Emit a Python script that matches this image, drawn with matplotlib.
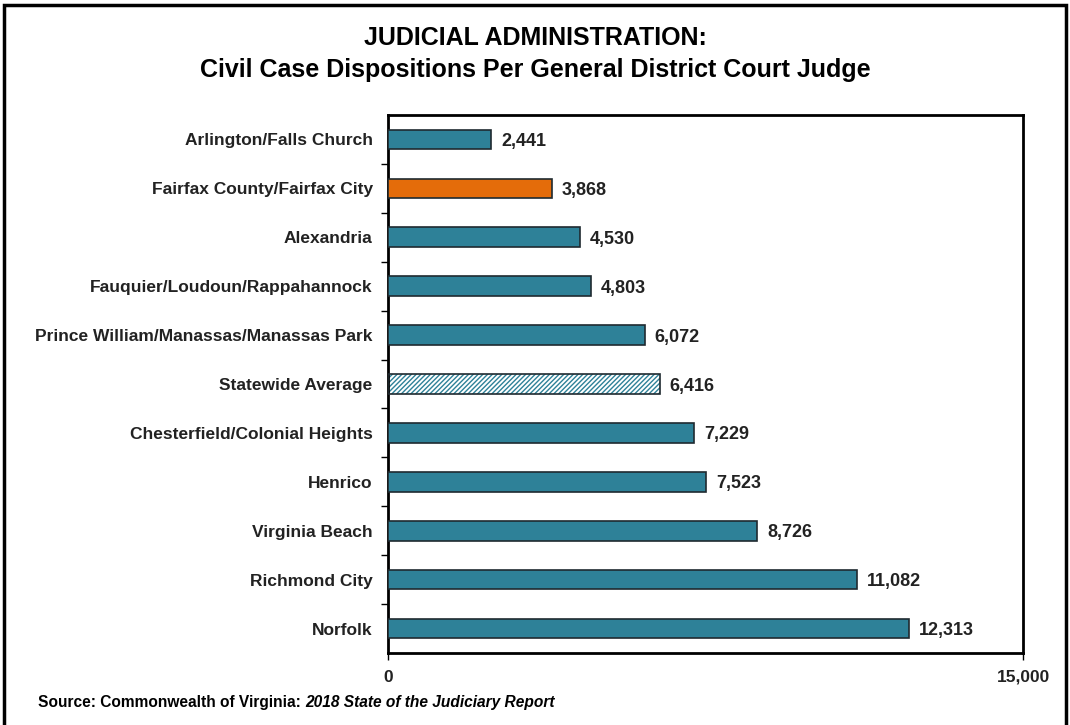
import matplotlib
matplotlib.use("Agg")
import matplotlib.pyplot as plt
from matplotlib.patches import Rectangle

# 数据
categories = [
    "Arlington/Falls Church",
    "Fairfax County/Fairfax City",
    "Alexandria",
    "Fauquier/Loudoun/Rappahannock",
    "Prince William/Manassas/Manassas Park",
    "Statewide Average",
    "Chesterfield/Colonial Heights",
    "Henrico",
    "Virginia Beach",
    "Richmond City",
    "Norfolk",
]
values = [2441, 3868, 4530, 4803, 6072, 6416, 7229, 7523, 8726, 11082, 12313]
highlight = "Fairfax County/Fairfax City"
average = "Statewide Average"

TEAL = "#2E8198"
ORANGE = "#E46C0A"
EDGE = "#1f2a30"
NARROW = dict(family="Liberation Sans", stretch="condensed")
WIDE = dict(family="Liberation Sans", stretch="normal")

fig = plt.figure(figsize=(10.7, 7.25), dpi=100)
fig.patch.set_facecolor("white")

# 外框 (底边在图外)
fig.patches.append(Rectangle((0.004, -0.01), 0.992, 1.003, transform=fig.transFigure,
                             fill=False, edgecolor="black", linewidth=2.5))

ax = fig.add_axes([388 / 1070, 1 - 653 / 725, (1023 - 388) / 1070, (653 - 115) / 725])

ypos = list(range(len(categories)))
for y, cat, v in zip(ypos, categories, values):
    if cat == average:
        ax.barh(y, v, height=0.4, color="white", edgecolor=TEAL, hatch="///////", linewidth=0, zorder=2)
        ax.barh(y, v, height=0.4, fill=False, edgecolor=EDGE, linewidth=1.2, zorder=3)
    else:
        c = ORANGE if cat == highlight else TEAL
        ax.barh(y, v, height=0.4, color=c, edgecolor=EDGE, linewidth=1.2, zorder=3)
    ax.text(v + 230, y, f"{v:,}", va="center_baseline", ha="left", fontsize=13,
            fontweight="bold", color="#222222", **WIDE)

ax.set_xlim(0, 15000)
ax.set_ylim(len(categories) - 0.5, -0.5)
ax.set_yticks(ypos)
ax.set_yticklabels(categories, fontsize=12.5, fontweight="bold", color="#222222", **NARROW)
ax.tick_params(axis="y", length=0, pad=11)
ax.set_yticks([i + 0.5 for i in ypos[:-1]], minor=True)
ax.tick_params(axis="y", which="minor", length=5, width=1, direction="out")

ax.set_xticks([0, 15000])
ax.set_xticklabels(["0", "15,000"], fontsize=12.5, fontweight="bold", color="#222222", **NARROW)
ax.tick_params(axis="x", length=5, width=1, direction="out", pad=7)

for s in ax.spines.values():
    s.set_linewidth(2)

fig.text(0.5, 1 - 38 / 725, "JUDICIAL ADMINISTRATION:", ha="center", va="center",
         fontsize=18, fontweight="bold", **NARROW)
fig.text(0.5, 1 - 70 / 725, "Civil Case Dispositions Per General District Court Judge", ha="center",
         va="center", fontsize=18, fontweight="bold", **NARROW)

t1 = fig.text(38 / 1070, 1 - 703 / 725, "Source: Commonwealth of Virginia: ", ha="left", va="center",
              fontsize=11.2, fontweight="bold", **NARROW)
fig.canvas.draw()
bb = t1.get_window_extent()
fig.text(bb.x1 / 1070, 1 - 703 / 725, "2018 State of the Judiciary Report", ha="left", va="center",
         fontsize=11.2, fontweight="bold", style="italic", **NARROW)

fig.savefig("out.png", dpi=100)
